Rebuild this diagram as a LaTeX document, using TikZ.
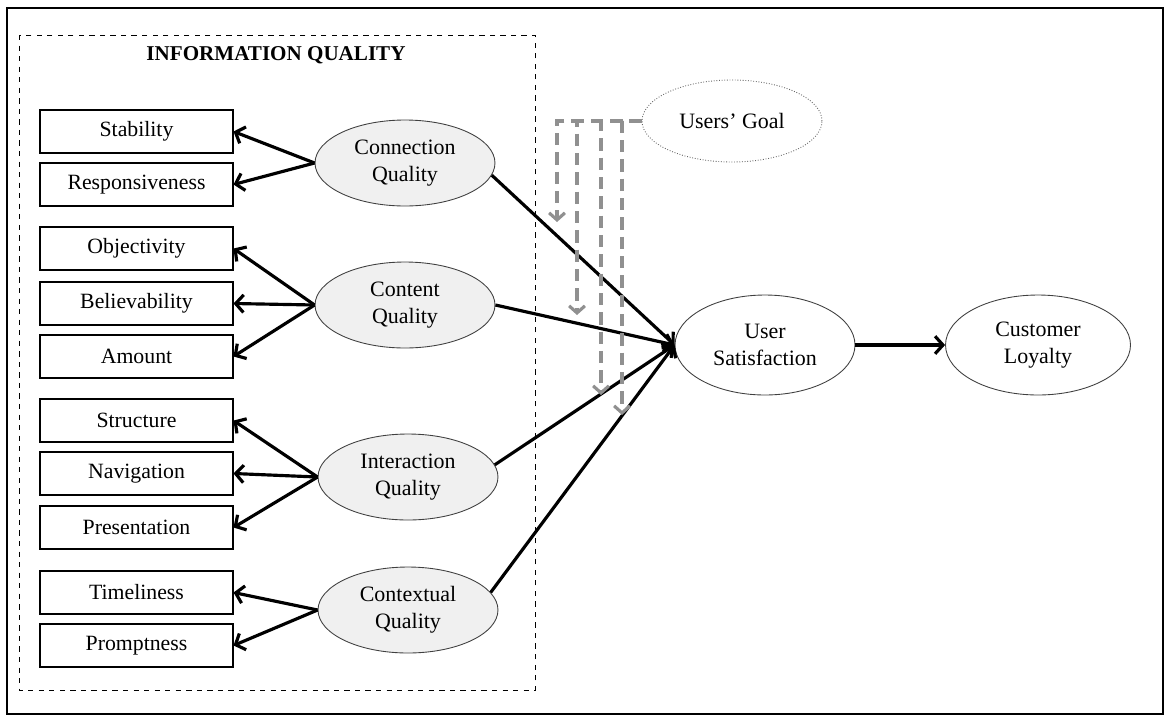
\documentclass[tikz,border=0pt]{standalone}
\usepackage{fontspec}
\setmainfont{Liberation Serif}
\usetikzlibrary{positioning,arrows.meta,shapes.geometric}
\definecolor{cFill}{HTML}{F0F0F0}
\definecolor{cMod}{HTML}{909090}

\begin{document}
\begin{tikzpicture}[x=0.02cm,y=-0.02cm,
      item/.style={draw,rectangle,line width=0.6pt,minimum width=3.86cm,minimum height=0.86cm,
                   inner sep=0pt,font=\fontsize{12.4}{14}\selectfont},
      dim/.style={draw=black!75,ellipse,line width=0.5pt,fill=cFill,minimum width=3.6cm,
                  minimum height=1.72cm,inner sep=0pt,align=center,font=\fontsize{12.5}{15.5}\selectfont},
      outc/.style={draw=black!75,ellipse,line width=0.5pt,minimum width=3.6cm,minimum height=2cm,
                   inner sep=0pt,align=center,font=\fontsize{12.5}{15.5}\selectfont},
      link/.style={line width=1.8pt,-{Straight Barb[length=4.5pt,width=10pt,line width=1.8pt]}},
      mod/.style={cMod,line width=2.2pt,dash pattern=on 7pt off 4pt,
                  -{Straight Barb[length=4pt,width=9pt,line width=1.8pt]}}]
    \useasboundingbox (0,0) rectangle (1169,717);
    \draw[line width=1.6pt] (7,8) rectangle (1163,714);
    \draw[dashed,line width=0.5pt] (19,35) rectangle (535,690);
    \node[font=\bfseries\fontsize{12}{14}\selectfont] (title) at (276,55) {INFORMATION QUALITY};

    \node[item] (stab) at (136.5,131.5) {Stability};
    \node[item] (resp) at (136.5,184.5) {Responsiveness};
    \node[item] (obj)  at (136.5,248.5) {Objectivity};
    \node[item] (bel)  at (136.5,303.5) {Believability};
    \node[item] (amt)  at (136.5,356.5) {Amount};
    \node[item] (str)  at (136.5,420.5) {Structure};
    \node[item] (nav)  at (136.5,473.5) {Navigation};
    \node[item] (pres) at (136.5,527.5) {Presentation};
    \node[item] (time) at (136.5,592.5) {Timeliness};
    \node[item] (prom) at (136.5,645.5) {Promptness};

    \node[dim] (cq) at (405,163) {Connection\\Quality};
    \node[dim] (tq) at (405,305) {Content\\Quality};
    \node[dim] (iq) at (408,477) {Interaction\\Quality};
    \node[dim] (xq) at (408,610) {Contextual\\Quality};

    \node[outc,draw=black!60,densely dotted,minimum height=1.64cm] (ug) at (732,121) {Users' Goal};
    \node[outc] (us) at (765,345) {User\\Satisfaction};
    \node[outc,minimum width=3.7cm] (cl) at (1038,345) {Customer\\Loyalty};

    \draw[link] (cq.west) -- (stab.east);
    \draw[link] (cq.west) -- (resp.east);
    \draw[link] (tq.west) -- (obj.east);
    \draw[link] (tq.west) -- (bel.east);
    \draw[link] (tq.west) -- (amt.east);
    \draw[link] (iq.west) -- (str.east);
    \draw[link] (iq.west) -- (nav.east);
    \draw[link] (iq.west) -- (pres.east);
    \draw[link] (xq.west) -- (time.east);
    \draw[link] (xq.west) -- (prom.east);

    \draw[link] (cq.-8) -- (us.west);
    \draw[link] (tq.east) -- (us.west);
    \draw[link] (iq.8) -- (us.west);
    \draw[link] (xq.12) -- (us.west);
    \draw[link] (us.east) -- (cl.west);

    \coordinate (m1) at (557,222);
    \coordinate (m2) at (577,315);
    \coordinate (m3) at (601,395);
    \coordinate (m4) at (622,415);
    \draw[mod] (ug.west) -| (m1);
    \draw[mod] (ug.west) -| (m2);
    \draw[mod] (ug.west) -| (m3);
    \draw[mod] (ug.west) -| (m4);
  \end{tikzpicture}
\end{document}
